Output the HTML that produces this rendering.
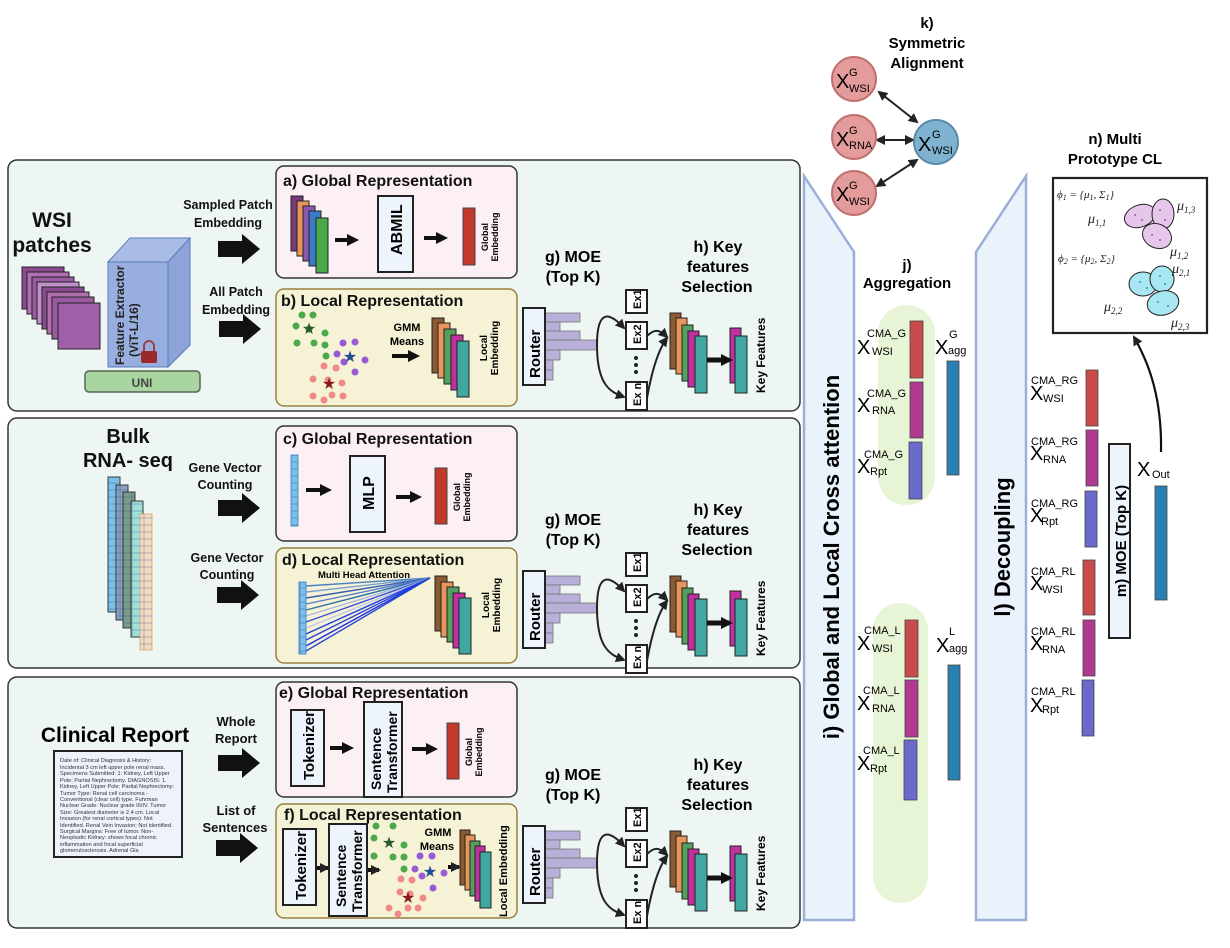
<!DOCTYPE html>
<html><head><meta charset="utf-8"><style>
html,body{margin:0;padding:0;background:#fff;}
svg{display:block;font-family:"Liberation Sans",Arial,sans-serif;}
.b{font-weight:bold;}
</style></head><body>
<svg width="1230" height="948" viewBox="0 0 1230 948" xmlns="http://www.w3.org/2000/svg">
<defs>
<pattern id="cells" width="12" height="7" patternUnits="userSpaceOnUse"><rect width="12" height="7" fill="none" stroke="#2a5a90" stroke-width="0.6" opacity="0.6"/></pattern>
<marker id="ah" markerUnits="userSpaceOnUse" markerWidth="10" markerHeight="10" refX="8" refY="5" orient="auto"><path d="M0,0 L10,5 L0,10 Z" fill="#222"/></marker>
<marker id="ahs" markerUnits="userSpaceOnUse" markerWidth="10" markerHeight="10" refX="2" refY="5" orient="auto"><path d="M10,0 L0,5 L10,10 Z" fill="#222"/></marker>
<marker id="ahb" markerUnits="userSpaceOnUse" markerWidth="12" markerHeight="12" refX="8" refY="6" orient="auto"><path d="M0,0 L12,6 L0,12 Z" fill="#111"/></marker>
</defs>

<rect x="8" y="160" width="792" height="251" rx="9" fill="#eef6f3" stroke="#333" stroke-width="1.5"/>
<rect x="8" y="418" width="792" height="250" rx="9" fill="#eef6f3" stroke="#333" stroke-width="1.5"/>
<rect x="8" y="677" width="792" height="251" rx="9" fill="#eef6f3" stroke="#333" stroke-width="1.5"/>

<rect x="276" y="166" width="241" height="112" rx="8" fill="#fcf0f4" stroke="#333" stroke-width="1.5"/>
<rect x="276" y="289" width="241" height="117" rx="8" fill="#f6f2d6" stroke="#9a8040" stroke-width="1.5"/>
<rect x="276" y="426" width="241" height="115" rx="8" fill="#fcf0f4" stroke="#333" stroke-width="1.5"/>
<rect x="276" y="548" width="241" height="115" rx="8" fill="#f6f2d6" stroke="#9a8040" stroke-width="1.5"/>
<rect x="276" y="682" width="241" height="115" rx="8" fill="#fcf0f4" stroke="#333" stroke-width="1.5"/>
<rect x="276" y="804" width="241" height="114" rx="8" fill="#f6f2d6" stroke="#9a8040" stroke-width="1.5"/>

<g class="b" font-size="16" fill="#111">
<text x="283" y="186">a) Global Representation</text>
<text x="281" y="306">b) Local Representation</text>
<text x="283" y="444">c) Global Representation</text>
<text x="282" y="565">d) Local Representation</text>
<text x="279" y="698">e) Global Representation</text>
<text x="284" y="820">f) Local Representation</text>
</g>

<!-- Panel 1 left -->
<g class="b" font-size="21" fill="#111" text-anchor="middle">
<text x="52" y="227">WSI</text><text x="52" y="252">patches</text>
</g>
<g stroke="#222" stroke-width="1">
<rect x="22" y="267" width="42" height="42" fill="#8a4a90"/>
<rect x="27" y="272" width="42" height="42" fill="#b070b0"/>
<rect x="32" y="277" width="42" height="42" fill="#9a5aa0"/>
<rect x="37" y="282" width="42" height="42" fill="#c090c8"/>
<rect x="42" y="287" width="42" height="42" fill="#8a4a90"/>
<rect x="47" y="292" width="42" height="42" fill="#b070b0"/>
<rect x="52" y="297" width="42" height="42" fill="#9a5aa0"/>
<rect x="58" y="303" width="42" height="46" fill="#a060a8"/>
</g>
<polygon points="108,262 130,238 190,238 168,262" fill="#a9bce6" stroke="#5a7ac0" stroke-width="1"/>
<polygon points="168,262 190,238 190,345 168,367" fill="#8ea4d8" stroke="#5a7ac0" stroke-width="1"/>
<rect x="108" y="262" width="60" height="105" fill="#97aede" stroke="#5a7ac0" stroke-width="1"/>
<text transform="translate(124,365) rotate(-90)" font-size="12" class="b" fill="#222">Feature Extractor</text>
<text transform="translate(138,357) rotate(-90)" font-size="12" class="b" fill="#222">(ViT-L/16)</text>
<path d="M144,352 v-6 a5,5 0 0 1 10,0 v6" fill="none" stroke="#a04040" stroke-width="2"/>
<rect x="141" y="351" width="16" height="12" rx="2" fill="#9a2a2a"/>
<rect x="85" y="371" width="115" height="21" rx="4" fill="#a8d5a0" stroke="#556655" stroke-width="1.5"/>
<text x="142" y="387" font-size="12" class="b" text-anchor="middle" fill="#444">UNI</text>

<g fill="#111">
<path d="M0,-8 H24 V-15 L42,0 L24,15 V8 H0 Z" transform="translate(218,249)"/>
<path d="M0,-8 H24 V-15 L42,0 L24,15 V8 H0 Z" transform="translate(219,329)"/>
<path d="M0,-8 H24 V-15 L42,0 L24,15 V8 H0 Z" transform="translate(218,508)"/>
<path d="M0,-8 H24 V-15 L42,0 L24,15 V8 H0 Z" transform="translate(217,595)"/>
<path d="M0,-8 H24 V-15 L42,0 L24,15 V8 H0 Z" transform="translate(218,763)"/>
<path d="M0,-8 H24 V-15 L42,0 L24,15 V8 H0 Z" transform="translate(216,848)"/>
</g>
<g class="b" font-size="12.5" fill="#111" text-anchor="middle">
<text x="228" y="209">Sampled Patch</text><text x="228" y="227">Embedding</text>
<text x="236" y="296">All Patch</text><text x="236" y="314">Embedding</text>
<text x="225" y="472">Gene Vector</text><text x="225" y="489">Counting</text>
<text x="227" y="562">Gene Vector</text><text x="227" y="579">Counting</text>
<text x="236" y="726" font-size="13">Whole</text><text x="236" y="743" font-size="13">Report</text>
<text x="236" y="815" font-size="13">List of</text><text x="235" y="832" font-size="13">Sentences</text>
</g>

<!-- a) -->
<g stroke="#222" stroke-width="1">
<rect x="291" y="196" width="12" height="55" fill="#7a3a7a"/>
<rect x="297" y="201" width="12" height="55" fill="#e8955a"/>
<rect x="303" y="206" width="12" height="55" fill="#8a5ab0"/>
<rect x="309" y="211" width="12" height="55" fill="#3a7ac8"/>
<rect x="316" y="218" width="12" height="55" fill="#4aaa4a"/>
</g>
<path d="M335,240 h20" stroke="#111" stroke-width="4" marker-end="url(#ahb)"/>
<rect x="378" y="196" width="35" height="76" fill="#eef4fb" stroke="#222" stroke-width="2"/>
<text transform="translate(402,255) rotate(-90)" font-size="16" class="b">ABMIL</text>
<path d="M424,238 h20" stroke="#111" stroke-width="4" marker-end="url(#ahb)"/>
<rect x="463" y="208" width="12" height="57" fill="#c0392b" stroke="#444"/>
<text transform="translate(488,260) rotate(-90)" font-size="9" class="b" text-anchor="middle"><tspan x="23" y="0">Global</tspan><tspan x="23" y="10">Embedding</tspan></text>

<!-- b) -->
<g fill="#4aaa4a">
<circle cx="302" cy="315" r="3.5"/><circle cx="313" cy="315" r="3.5"/><circle cx="296" cy="326" r="3.5"/><circle cx="309" cy="329" r="3.5"/><circle cx="325" cy="333" r="3.5"/><circle cx="297" cy="343" r="3.5"/><circle cx="314" cy="343" r="3.5"/><circle cx="325" cy="345" r="3.5"/><circle cx="326" cy="356" r="3.5"/>
</g>
<g fill="#9a5ad8">
<circle cx="343" cy="343" r="3.5"/><circle cx="355" cy="342" r="3.5"/><circle cx="337" cy="354" r="3.5"/><circle cx="365" cy="360" r="3.5"/><circle cx="344" cy="362" r="3.5"/><circle cx="355" cy="372" r="3.5"/>
</g>
<g fill="#f08a8a">
<circle cx="324" cy="366" r="3.5"/><circle cx="336" cy="368" r="3.5"/><circle cx="313" cy="379" r="3.5"/><circle cx="328" cy="380" r="3.5"/><circle cx="342" cy="383" r="3.5"/><circle cx="313" cy="396" r="3.5"/><circle cx="324" cy="400" r="3.5"/><circle cx="332" cy="395" r="3.5"/><circle cx="343" cy="396" r="3.5"/>
</g>
<text x="309" y="334" font-size="16" fill="#2a5a2a" text-anchor="middle">★</text>
<text x="350" y="362" font-size="16" fill="#1f4f90" text-anchor="middle">★</text>
<text x="329" y="389" font-size="16" fill="#8a1a1a" text-anchor="middle">★</text>
<text x="407" y="331" font-size="11" class="b" text-anchor="middle">GMM</text>
<text x="407" y="345" font-size="11" class="b" text-anchor="middle">Means</text>
<path d="M392,356 h24" stroke="#111" stroke-width="4" marker-end="url(#ahb)"/>
<g stroke="#222" stroke-width="1">
<rect x="432" y="318" width="12" height="55" fill="#8a5a30"/>
<rect x="438" y="323" width="12" height="55" fill="#e8955a"/>
<rect x="444" y="329" width="12" height="55" fill="#55a060"/>
<rect x="451" y="335" width="12" height="55" fill="#c030a0"/>
<rect x="457" y="341" width="12" height="56" fill="#40a8a0"/>
</g>
<text transform="translate(487,375) rotate(-90)" font-size="10" class="b" text-anchor="middle"><tspan x="27" y="0">Local</tspan><tspan x="27" y="11">Embedding</tspan></text>

<!-- Panel 2 -->
<g class="b" font-size="20" fill="#111" text-anchor="middle">
<text x="128" y="443">Bulk</text><text x="128" y="467">RNA- seq</text>
</g>
<g stroke="#333" stroke-width="0.8">
<rect x="108" y="477" width="12" height="135" fill="#7ac0e8"/><rect x="108" y="477" width="12" height="135" fill="url(#cells)"/>
<rect x="116" y="485" width="12" height="135" fill="#8aa0c0"/><rect x="116" y="485" width="12" height="135" fill="url(#cells)"/>
<rect x="123" y="492" width="12" height="136" fill="#7a9a8a"/><rect x="123" y="492" width="12" height="136" fill="url(#cells)"/>
<rect x="131" y="501" width="12" height="136" fill="#a0e0d8"/><rect x="131" y="501" width="12" height="136" fill="url(#cells)"/>
<rect x="140" y="514" width="12" height="136" fill="#f5dcc0" stroke="#d0a070"/><rect x="140" y="514" width="12" height="136" fill="url(#cells)" stroke="none"/>
</g>
<rect x="291" y="455" width="7" height="71" fill="#7ac0e8" stroke="#3a7ac8" stroke-width="0.8"/>
<rect x="291" y="455" width="7" height="71" fill="url(#cells)"/>
<path d="M306,490 h22" stroke="#111" stroke-width="4" marker-end="url(#ahb)"/>
<rect x="350" y="456" width="35" height="76" fill="#eef4fb" stroke="#222" stroke-width="2"/>
<text transform="translate(374,510) rotate(-90)" font-size="16" class="b">MLP</text>
<path d="M396,497 h22" stroke="#111" stroke-width="4" marker-end="url(#ahb)"/>
<rect x="435" y="468" width="12" height="56" fill="#c0392b" stroke="#444"/>
<text transform="translate(460,520) rotate(-90)" font-size="9" class="b" text-anchor="middle"><tspan x="23" y="0">Global</tspan><tspan x="23" y="10">Embedding</tspan></text>
<text x="364" y="578" font-size="9.5" class="b" text-anchor="middle">Multi Head Attention</text>
<g stroke-width="1.4">
<line x1="306" y1="586" x2="430" y2="578" stroke="#4a80c0"/>
<line x1="306" y1="592" x2="430" y2="578" stroke="#7aa0d0"/>
<line x1="306" y1="598" x2="430" y2="578" stroke="#3a60b0"/>
<line x1="306" y1="604" x2="430" y2="578" stroke="#5a7ad0"/>
<line x1="306" y1="610" x2="430" y2="578" stroke="#2a70a8"/>
<line x1="306" y1="616" x2="430" y2="578" stroke="#aab8e0"/>
<line x1="306" y1="622" x2="430" y2="578" stroke="#3a50d0"/>
<line x1="306" y1="628" x2="430" y2="578" stroke="#c0c8e8"/>
<line x1="306" y1="634" x2="430" y2="578" stroke="#1a40e0"/>
<line x1="306" y1="640" x2="430" y2="578" stroke="#2a40d8"/>
<line x1="306" y1="646" x2="430" y2="578" stroke="#1a30e0"/>
<line x1="306" y1="651" x2="430" y2="578" stroke="#2a48d0"/>
</g>
<rect x="299" y="582" width="7" height="72" fill="#7ac0e8" stroke="#3a7ac8" stroke-width="0.8"/>
<rect x="299" y="582" width="7" height="72" fill="url(#cells)"/>
<g stroke="#222" stroke-width="1">
<rect x="435" y="576" width="12" height="55" fill="#8a5a30"/>
<rect x="441" y="582" width="12" height="55" fill="#e8955a"/>
<rect x="447" y="587" width="12" height="55" fill="#55a060"/>
<rect x="453" y="593" width="12" height="55" fill="#c030a0"/>
<rect x="459" y="598" width="12" height="56" fill="#40a8a0"/>
</g>
<text transform="translate(489,632) rotate(-90)" font-size="10" class="b" text-anchor="middle"><tspan x="27" y="0">Local</tspan><tspan x="27" y="11">Embedding</tspan></text>

<!-- Panel 3 -->
<text x="115" y="742" font-size="21" class="b" text-anchor="middle">Clinical Report</text>
<rect x="54" y="751" width="128" height="106" fill="#eef2fb" stroke="#222" stroke-width="2"/>
<g font-size="5.6" fill="#333">
<text x="60" y="762">Date of: Clinical Diagnosis &amp; History:</text>
<text x="60" y="769">Incidental 3 cm left upper pole renal mass.</text>
<text x="60" y="775">Specimens Submitted: 1: Kidney, Left Upper</text>
<text x="60" y="782">Pole; Partial Nephrectomy. DIAGNOSIS: 1.</text>
<text x="60" y="788">Kidney, Left Upper Pole; Partial Nephrectomy:</text>
<text x="60" y="795">Tumor Type: Renal cell carcinoma -</text>
<text x="60" y="801">Conventional (clear cell) type. Fuhrman</text>
<text x="60" y="807">Nuclear Grade: Nuclear grade III/IV. Tumor</text>
<text x="60" y="814">Size: Greatest diameter is 2.4 cm. Local</text>
<text x="60" y="820">Invasion (for renal cortical types): Not</text>
<text x="60" y="827">Identified. Renal Vein Invasion: Not identified.</text>
<text x="60" y="833">Surgical Margins: Free of tumor. Non-</text>
<text x="60" y="839">Neoplastic Kidney: shows focal chronic</text>
<text x="60" y="846">inflammation and focal superficial</text>
<text x="60" y="852">glomerulosclerosis. Adrenal Gla</text>
</g>
<rect x="291" y="710" width="33" height="76" fill="#eef4fb" stroke="#222" stroke-width="2"/>
<text transform="translate(314,780) rotate(-90)" font-size="15" class="b">Tokenizer</text>
<path d="M330,748 h20" stroke="#111" stroke-width="4" marker-end="url(#ahb)"/>
<rect x="364" y="702" width="38" height="95" fill="#eef4fb" stroke="#222" stroke-width="2"/>
<text transform="translate(381,790) rotate(-90)" font-size="14" class="b">Sentence</text>
<text transform="translate(397,793) rotate(-90)" font-size="14" class="b">Transformer</text>
<path d="M412,749 h22" stroke="#111" stroke-width="4" marker-end="url(#ahb)"/>
<rect x="447" y="723" width="12" height="56" fill="#c0392b" stroke="#444"/>
<text transform="translate(472,775) rotate(-90)" font-size="9" class="b" text-anchor="middle"><tspan x="23" y="0">Global</tspan><tspan x="23" y="10">Embedding</tspan></text>
<rect x="283" y="829" width="33" height="76" fill="#eef4fb" stroke="#222" stroke-width="2"/>
<text transform="translate(306,900) rotate(-90)" font-size="15" class="b">Tokenizer</text>
<path d="M317,868 h11" stroke="#111" stroke-width="4" marker-end="url(#ah)"/>
<rect x="329" y="824" width="38" height="92" fill="#eef4fb" stroke="#222" stroke-width="2"/>
<text transform="translate(346,907) rotate(-90)" font-size="14" class="b">Sentence</text>
<text transform="translate(362,912) rotate(-90)" font-size="14" class="b">Transformer</text>
<path d="M368,870 h11" stroke="#111" stroke-width="4" marker-end="url(#ah)"/>
<g fill="#4aaa4a">
<circle cx="376" cy="826" r="3.5"/><circle cx="393" cy="826" r="3.5"/><circle cx="374" cy="838" r="3.5"/><circle cx="404" cy="845" r="3.5"/><circle cx="374" cy="856" r="3.5"/><circle cx="393" cy="857" r="3.5"/><circle cx="404" cy="857" r="3.5"/><circle cx="404" cy="869" r="3.5"/>
</g>
<g fill="#9a5ad8">
<circle cx="420" cy="856" r="3.5"/><circle cx="432" cy="856" r="3.5"/><circle cx="415" cy="869" r="3.5"/><circle cx="444" cy="873" r="3.5"/><circle cx="422" cy="876" r="3.5"/><circle cx="433" cy="888" r="3.5"/>
</g>
<g fill="#f08a8a">
<circle cx="401" cy="879" r="3.5"/><circle cx="412" cy="880" r="3.5"/><circle cx="400" cy="892" r="3.5"/><circle cx="410" cy="894" r="3.5"/><circle cx="423" cy="898" r="3.5"/><circle cx="389" cy="908" r="3.5"/><circle cx="398" cy="914" r="3.5"/><circle cx="408" cy="908" r="3.5"/><circle cx="418" cy="908" r="3.5"/>
</g>
<text x="389" y="848" font-size="16" fill="#2a5a2a" text-anchor="middle">★</text>
<text x="430" y="877" font-size="16" fill="#1f4f90" text-anchor="middle">★</text>
<text x="408" y="903" font-size="16" fill="#8a1a1a" text-anchor="middle">★</text>
<text x="438" y="836" font-size="11" class="b" text-anchor="middle">GMM</text>
<text x="437" y="850" font-size="11" class="b" text-anchor="middle">Means</text>
<path d="M448,867 h11" stroke="#111" stroke-width="4" marker-end="url(#ah)"/>
<g stroke="#222" stroke-width="1">
<rect x="460" y="830" width="10" height="55" fill="#8a5a30"/>
<rect x="465" y="835" width="10" height="55" fill="#e8955a"/>
<rect x="470" y="841" width="10" height="55" fill="#55a060"/>
<rect x="475" y="846" width="10" height="55" fill="#c030a0"/>
<rect x="480" y="852" width="11" height="56" fill="#40a8a0"/>
</g>
<text transform="translate(507,917) rotate(-90)" font-size="11" class="b">Local Embedding</text>

<!-- MOE blocks -->
<g>
<g class="b" font-size="16" text-anchor="middle"><text x="573" y="262">g) MOE</text><text x="573" y="282">(Top K)</text>
<text x="718" y="252">h) Key</text><text x="718" y="272">features</text><text x="717" y="292">Selection</text></g>
<g fill="#b8b0d8" stroke="#777" stroke-width="0.8">
<rect x="545" y="313" width="35" height="9"/><rect x="545" y="322" width="15" height="9"/><rect x="545" y="331" width="35" height="9"/><rect x="545" y="340" width="52" height="10"/><rect x="545" y="350" width="15" height="10"/><rect x="545" y="360" width="8" height="10"/><rect x="545" y="370" width="8" height="10"/>
</g>
<rect x="523" y="308" width="22" height="77" fill="#eef4fb" stroke="#222" stroke-width="2"/>
<text transform="translate(540,378) rotate(-90)" font-size="15" class="b">Router</text>
<path d="M597,345 C597,305 612,315 624,328" fill="none" stroke="#222" stroke-width="2" marker-end="url(#ah)"/>
<path d="M597,345 C597,385 610,392 624,397" fill="none" stroke="#222" stroke-width="2" marker-end="url(#ah)"/>
<g fill="#fff" stroke="#222" stroke-width="2">
<rect x="626" y="290" width="21" height="23"/><rect x="626" y="322" width="21" height="27"/><rect x="626" y="382" width="21" height="28"/></g>
<g font-size="11" class="b"><text transform="translate(641,309) rotate(-90)">Ex1</text><text transform="translate(641,344) rotate(-90)">Ex2</text><text transform="translate(641,406) rotate(-90)">Ex n</text></g>
<g fill="#222"><circle cx="636" cy="358" r="2"/><circle cx="636" cy="365" r="2"/><circle cx="636" cy="372" r="2"/></g>
<path d="M647,336 C655,328 660,330 667,337" fill="none" stroke="#222" stroke-width="2" marker-end="url(#ah)"/>
<path d="M647,398 C652,370 658,350 667,338" fill="none" stroke="#222" stroke-width="2" marker-end="url(#ah)"/>
<g stroke="#222" stroke-width="1">
<rect x="670" y="313" width="11" height="56" fill="#8a5a30"/><rect x="676" y="318" width="11" height="56" fill="#e8955a"/><rect x="682" y="325" width="11" height="56" fill="#55a060"/><rect x="688" y="331" width="11" height="56" fill="#c030a0"/><rect x="695" y="336" width="12" height="57" fill="#40a8a0"/>
<rect x="730" y="328" width="11" height="55" fill="#c030a0"/><rect x="735" y="336" width="12" height="57" fill="#40a8a0"/>
</g>
<path d="M707,360 h22" stroke="#111" stroke-width="5" marker-end="url(#ahb)"/>
<text transform="translate(765,393) rotate(-90)" font-size="12" class="b">Key Features</text>
</g>
<g transform="translate(0,263)">
<g class="b" font-size="16" text-anchor="middle"><text x="573" y="262">g) MOE</text><text x="573" y="282">(Top K)</text>
<text x="718" y="252">h) Key</text><text x="718" y="272">features</text><text x="717" y="292">Selection</text></g>
<g fill="#b8b0d8" stroke="#777" stroke-width="0.8">
<rect x="545" y="313" width="35" height="9"/><rect x="545" y="322" width="15" height="9"/><rect x="545" y="331" width="35" height="9"/><rect x="545" y="340" width="52" height="10"/><rect x="545" y="350" width="15" height="10"/><rect x="545" y="360" width="8" height="10"/><rect x="545" y="370" width="8" height="10"/>
</g>
<rect x="523" y="308" width="22" height="77" fill="#eef4fb" stroke="#222" stroke-width="2"/>
<text transform="translate(540,378) rotate(-90)" font-size="15" class="b">Router</text>
<path d="M597,345 C597,305 612,315 624,328" fill="none" stroke="#222" stroke-width="2" marker-end="url(#ah)"/>
<path d="M597,345 C597,385 610,392 624,397" fill="none" stroke="#222" stroke-width="2" marker-end="url(#ah)"/>
<g fill="#fff" stroke="#222" stroke-width="2">
<rect x="626" y="290" width="21" height="23"/><rect x="626" y="322" width="21" height="27"/><rect x="626" y="382" width="21" height="28"/></g>
<g font-size="11" class="b"><text transform="translate(641,309) rotate(-90)">Ex1</text><text transform="translate(641,344) rotate(-90)">Ex2</text><text transform="translate(641,406) rotate(-90)">Ex n</text></g>
<g fill="#222"><circle cx="636" cy="358" r="2"/><circle cx="636" cy="365" r="2"/><circle cx="636" cy="372" r="2"/></g>
<path d="M647,336 C655,328 660,330 667,337" fill="none" stroke="#222" stroke-width="2" marker-end="url(#ah)"/>
<path d="M647,398 C652,370 658,350 667,338" fill="none" stroke="#222" stroke-width="2" marker-end="url(#ah)"/>
<g stroke="#222" stroke-width="1">
<rect x="670" y="313" width="11" height="56" fill="#8a5a30"/><rect x="676" y="318" width="11" height="56" fill="#e8955a"/><rect x="682" y="325" width="11" height="56" fill="#55a060"/><rect x="688" y="331" width="11" height="56" fill="#c030a0"/><rect x="695" y="336" width="12" height="57" fill="#40a8a0"/>
<rect x="730" y="328" width="11" height="55" fill="#c030a0"/><rect x="735" y="336" width="12" height="57" fill="#40a8a0"/>
</g>
<path d="M707,360 h22" stroke="#111" stroke-width="5" marker-end="url(#ahb)"/>
<text transform="translate(765,393) rotate(-90)" font-size="12" class="b">Key Features</text>
</g>
<g transform="translate(0,518)">
<g class="b" font-size="16" text-anchor="middle"><text x="573" y="262">g) MOE</text><text x="573" y="282">(Top K)</text>
<text x="718" y="252">h) Key</text><text x="718" y="272">features</text><text x="717" y="292">Selection</text></g>
<g fill="#b8b0d8" stroke="#777" stroke-width="0.8">
<rect x="545" y="313" width="35" height="9"/><rect x="545" y="322" width="15" height="9"/><rect x="545" y="331" width="35" height="9"/><rect x="545" y="340" width="52" height="10"/><rect x="545" y="350" width="15" height="10"/><rect x="545" y="360" width="8" height="10"/><rect x="545" y="370" width="8" height="10"/>
</g>
<rect x="523" y="308" width="22" height="77" fill="#eef4fb" stroke="#222" stroke-width="2"/>
<text transform="translate(540,378) rotate(-90)" font-size="15" class="b">Router</text>
<path d="M597,345 C597,305 612,315 624,328" fill="none" stroke="#222" stroke-width="2" marker-end="url(#ah)"/>
<path d="M597,345 C597,385 610,392 624,397" fill="none" stroke="#222" stroke-width="2" marker-end="url(#ah)"/>
<g fill="#fff" stroke="#222" stroke-width="2">
<rect x="626" y="290" width="21" height="23"/><rect x="626" y="322" width="21" height="27"/><rect x="626" y="382" width="21" height="28"/></g>
<g font-size="11" class="b"><text transform="translate(641,309) rotate(-90)">Ex1</text><text transform="translate(641,344) rotate(-90)">Ex2</text><text transform="translate(641,406) rotate(-90)">Ex n</text></g>
<g fill="#222"><circle cx="636" cy="358" r="2"/><circle cx="636" cy="365" r="2"/><circle cx="636" cy="372" r="2"/></g>
<path d="M647,336 C655,328 660,330 667,337" fill="none" stroke="#222" stroke-width="2" marker-end="url(#ah)"/>
<path d="M647,398 C652,370 658,350 667,338" fill="none" stroke="#222" stroke-width="2" marker-end="url(#ah)"/>
<g stroke="#222" stroke-width="1">
<rect x="670" y="313" width="11" height="56" fill="#8a5a30"/><rect x="676" y="318" width="11" height="56" fill="#e8955a"/><rect x="682" y="325" width="11" height="56" fill="#55a060"/><rect x="688" y="331" width="11" height="56" fill="#c030a0"/><rect x="695" y="336" width="12" height="57" fill="#40a8a0"/>
<rect x="730" y="328" width="11" height="55" fill="#c030a0"/><rect x="735" y="336" width="12" height="57" fill="#40a8a0"/>
</g>
<path d="M707,360 h22" stroke="#111" stroke-width="5" marker-end="url(#ahb)"/>
<text transform="translate(765,393) rotate(-90)" font-size="12" class="b">Key Features</text>
</g>

<!-- Right side -->
<polygon points="804,176 854,252 854,920 804,920" fill="#eaf2fb" stroke="#9ab0d8" stroke-width="2.5"/>
<polygon points="1026,176 976,252 976,920 1026,920" fill="#eaf2fb" stroke="#9ab0d8" stroke-width="2.5"/>
<text transform="translate(839,557) rotate(-90)" font-size="22" class="b" text-anchor="middle">i) Global and Local Cross attention</text>
<text transform="translate(1010,547) rotate(-90)" font-size="22" class="b" text-anchor="middle">l) Decoupling</text>

<!-- k) -->
<g class="b" font-size="15" text-anchor="middle"><text x="927" y="28">k)</text><text x="927" y="48">Symmetric</text><text x="927" y="68">Alignment</text></g>
<g stroke-width="2">
<line x1="879" y1="92" x2="917" y2="122" stroke="#222" marker-end="url(#ah)" marker-start="url(#ahs)"/>
<line x1="877" y1="140" x2="913" y2="140" stroke="#222" marker-end="url(#ah)" marker-start="url(#ahs)"/>
<line x1="877" y1="186" x2="917" y2="160" stroke="#222" marker-end="url(#ah)" marker-start="url(#ahs)"/>
</g>
<circle cx="854" cy="79" r="22" fill="#e39b9b" stroke="#c07070" stroke-width="2"/>
<circle cx="854" cy="137" r="22" fill="#e39b9b" stroke="#c07070" stroke-width="2"/>
<circle cx="854" cy="193" r="22" fill="#e39b9b" stroke="#c07070" stroke-width="2"/>
<circle cx="936" cy="142" r="22" fill="#7fb2cf" stroke="#5a8aa8" stroke-width="2"/>
<g font-size="20"><text x="836" y="88">X</text><text x="836" y="146">X</text><text x="836" y="201">X</text><text x="918" y="151">X</text></g>
<g font-size="11"><text x="849" y="76">G</text><text x="849" y="92">WSI</text><text x="849" y="134">G</text><text x="849" y="149">RNA</text><text x="849" y="189">G</text><text x="849" y="205">WSI</text><text x="932" y="138">G</text><text x="932" y="154">WSI</text></g>

<!-- j) -->
<g class="b" font-size="15" text-anchor="middle"><text x="907" y="270">j)</text><text x="907" y="288">Aggregation</text></g>
<rect x="878" y="305" width="57" height="200" rx="28" fill="#e8f4d6"/>
<rect x="873" y="603" width="55" height="300" rx="27" fill="#e8f4d6"/>
<g stroke="#444" stroke-width="0.8">
<rect x="910" y="321" width="13" height="57" fill="#c94b4b"/><rect x="910" y="382" width="13" height="56" fill="#b03a90"/><rect x="909" y="442" width="13" height="57" fill="#6a6acc"/>
<rect x="947" y="361" width="12" height="114" fill="#2a80b0"/>
<rect x="905" y="620" width="13" height="57" fill="#c94b4b"/><rect x="905" y="680" width="13" height="57" fill="#b03a90"/><rect x="904" y="740" width="13" height="60" fill="#6a6acc"/>
<rect x="948" y="665" width="12" height="115" fill="#2a80b0"/>
</g>
<g font-size="20">
<text x="857" y="354">X</text><text x="857" y="412">X</text><text x="857" y="473">X</text><text x="935" y="354">X</text>
<text x="857" y="650">X</text><text x="857" y="710">X</text><text x="857" y="770">X</text><text x="936" y="652">X</text>
<text x="1030" y="400">X</text><text x="1030" y="460">X</text><text x="1030" y="522">X</text>
<text x="1030" y="590">X</text><text x="1030" y="650">X</text><text x="1030" y="712">X</text>
<text x="1137" y="476">X</text>
</g>
<g font-size="11">
<text x="867" y="337">CMA_G</text><text x="872" y="355">WSI</text>
<text x="867" y="397">CMA_G</text><text x="872" y="414">RNA</text>
<text x="864" y="458">CMA_G</text><text x="870" y="475">Rpt</text>
<text x="949" y="338">G</text><text x="948" y="354">agg</text>
<text x="864" y="634">CMA_L</text><text x="872" y="652">WSI</text>
<text x="863" y="694">CMA_L</text><text x="872" y="712">RNA</text>
<text x="863" y="754">CMA_L</text><text x="870" y="772">Rpt</text>
<text x="949" y="635">L</text><text x="949" y="652">agg</text>
<text x="1031" y="384">CMA_RG</text><text x="1043" y="402">WSI</text>
<text x="1031" y="445">CMA_RG</text><text x="1043" y="463">RNA</text>
<text x="1031" y="507">CMA_RG</text><text x="1041" y="525">Rpt</text>
<text x="1031" y="575">CMA_RL</text><text x="1042" y="593">WSI</text>
<text x="1031" y="635">CMA_RL</text><text x="1042" y="653">RNA</text>
<text x="1031" y="695">CMA_RL</text><text x="1042" y="713">Rpt</text>
<text x="1152" y="478">Out</text>
</g>
<g stroke="#444" stroke-width="0.8">
<rect x="1086" y="370" width="12" height="56" fill="#c94b4b"/><rect x="1086" y="430" width="12" height="56" fill="#b03a90"/><rect x="1085" y="491" width="12" height="56" fill="#6a6acc"/>
<rect x="1083" y="560" width="12" height="55" fill="#c94b4b"/><rect x="1083" y="620" width="12" height="56" fill="#b03a90"/><rect x="1082" y="680" width="12" height="56" fill="#6a6acc"/>
<rect x="1155" y="486" width="12" height="114" fill="#2a80b0"/>
</g>
<rect x="1109" y="444" width="21" height="194" fill="#eef4fb" stroke="#222" stroke-width="2"/>
<text transform="translate(1126,541) rotate(-90)" font-size="15" class="b" text-anchor="middle">m) MOE (Top K)</text>
<path d="M1161,452 C1162,400 1150,365 1134,337" fill="none" stroke="#111" stroke-width="2.2" marker-end="url(#ah)"/>

<!-- n) -->
<g class="b" font-size="15" text-anchor="middle"><text x="1115" y="144">n) Multi</text><text x="1115" y="164">Prototype CL</text></g>
<rect x="1053" y="178" width="154" height="155" fill="#fff" stroke="#222" stroke-width="2.2"/>
<g stroke="#222" stroke-width="1">
<ellipse cx="1140" cy="216" rx="16" ry="11" fill="#e6c6ea" transform="rotate(-20 1140 216)"/>
<ellipse cx="1163" cy="214" rx="11" ry="15" fill="#e6c6ea"/>
<ellipse cx="1157" cy="236" rx="15" ry="12" fill="#e6c6ea" transform="rotate(25 1157 236)"/>
<ellipse cx="1143" cy="284" rx="14" ry="12" fill="#a8e6f2"/>
<ellipse cx="1162" cy="279" rx="12" ry="13" fill="#a8e6f2"/>
<ellipse cx="1163" cy="303" rx="16" ry="12" fill="#a8e6f2" transform="rotate(-15 1163 303)"/>
</g>
<g fill="#9a5aa8"><circle cx="1135" cy="215" r="1"/><circle cx="1142" cy="220" r="1"/><circle cx="1160" cy="210" r="1"/><circle cx="1165" cy="220" r="1"/><circle cx="1152" cy="235" r="1"/><circle cx="1160" cy="240" r="1"/></g>
<g fill="#2a9ab8"><circle cx="1140" cy="282" r="1"/><circle cx="1147" cy="288" r="1"/><circle cx="1160" cy="276" r="1"/><circle cx="1165" cy="284" r="1"/><circle cx="1158" cy="302" r="1"/><circle cx="1168" cy="306" r="1"/></g>
<g font-family="Liberation Serif,serif" font-style="italic" fill="#222">
<text x="1057" y="198" font-size="11">ϕ<tspan font-size="8" dy="2">1</tspan><tspan dy="-2"> = {μ</tspan><tspan font-size="8" dy="2">1</tspan><tspan dy="-2">, Σ</tspan><tspan font-size="8" dy="2">1</tspan><tspan dy="-2">}</tspan></text>
<text x="1058" y="262" font-size="11">ϕ<tspan font-size="8" dy="2">2</tspan><tspan dy="-2"> = {μ</tspan><tspan font-size="8" dy="2">2</tspan><tspan dy="-2">, Σ</tspan><tspan font-size="8" dy="2">2</tspan><tspan dy="-2">}</tspan></text>
<text x="1088" y="223" font-size="14">μ<tspan font-size="9" dy="3">1,1</tspan></text>
<text x="1177" y="210" font-size="14">μ<tspan font-size="9" dy="3">1,3</tspan></text>
<text x="1170" y="256" font-size="14">μ<tspan font-size="9" dy="3">1,2</tspan></text>
<text x="1172" y="273" font-size="14">μ<tspan font-size="9" dy="3">2,1</tspan></text>
<text x="1104" y="311" font-size="14">μ<tspan font-size="9" dy="3">2,2</tspan></text>
<text x="1171" y="327" font-size="14">μ<tspan font-size="9" dy="3">2,3</tspan></text>
</g>
</svg>
</body></html>
